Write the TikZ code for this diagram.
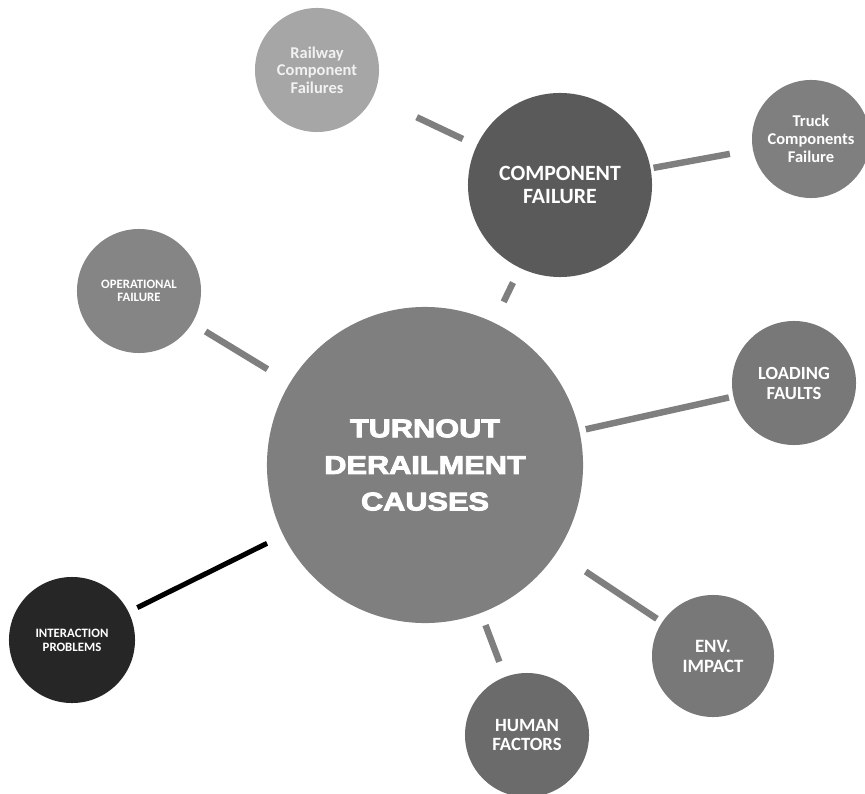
\documentclass[tikz,border=0pt]{standalone}
\usepackage{fontspec}
\setmainfont{Carlito}
\newfontfamily\titlefont[FakeStretch=1.2, FakeBold=3.5]{Liberation Sans Bold}

\definecolor{maingray}{HTML}{7F7F7F}
\definecolor{darkgray}{HTML}{5A5A5A}
\definecolor{lightgray}{HTML}{A6A6A6}
\definecolor{midgray}{HTML}{787878}
\definecolor{blackgray}{HTML}{262626}
\definecolor{linkgray}{HTML}{7F7F7F}

\tikzset{
  cause/.style={circle, inner sep=0pt, text=white, align=center, font=\bfseries},
  link/.style={draw=linkgray, line width=4.6pt},
}

\begin{document}
\begin{tikzpicture}[x=0.025cm, y=-0.025cm]
% Set the page size (one unit is one pixel)
\useasboundingbox (0,0) rectangle (865,793);

% Draw the main cause in the middle
\node[cause, fill=maingray, minimum size=7.9cm, font=\titlefont\fontsize{18.2}{26}\selectfont] (turnout) at (425,465) {TURNOUT\\DERAILMENT\\CAUSES};

% Draw the causes around it
\node[cause, fill=darkgray, minimum size=4.6cm, font=\bfseries\fontsize{15.5}{15.8}\selectfont] (compfail) at (560,185) {COMPONENT\\FAILURE};
\node[cause, fill=lightgray, minimum size=3.1cm, text=white!95!black, font=\bfseries\fontsize{11.7}{12.5}\selectfont] (railway) at (317,70) {Railway\\Component\\Failures};
\node[cause, fill=maingray, minimum size=2.95cm, font=\bfseries\fontsize{11.7}{12.6}\selectfont] (truck) at (811,139) {Truck\\Components\\Failure};
\node[cause, fill=maingray!95!white, minimum size=3.1cm, font=\bfseries\fontsize{9.1}{9.6}\selectfont] (operational) at (139,291) {OPERATIONAL\\FAILURE};
\node[cause, fill=midgray, minimum size=3.1cm, font=\bfseries\fontsize{13.2}{14.2}\selectfont] (loading) at (794,383) {LOADING\\FAULTS};
\node[cause, fill=blackgray, minimum size=3.15cm, font=\bfseries\fontsize{9.1}{9.9}\selectfont] (interaction) at (72,640) {INTERACTION\\PROBLEMS};
\node[cause, fill=midgray, minimum size=3.05cm, font=\bfseries\fontsize{13.4}{14.2}\selectfont] (env) at (713,656) {ENV.\\IMPACT};
\node[cause, fill=darkgray!90!white, minimum size=3.1cm, font=\bfseries\fontsize{13.3}{14.2}\selectfont] (human) at (527,735) {HUMAN\\FACTORS};

% Draw the links (they stop short of the circles)
\draw[link, shorten <=1.2cm, shorten >=0.38cm] (railway) -- (compfail);
\draw[link, shorten <=0.07cm, shorten >=0.58cm] (compfail) -- (truck);
\draw[link, shorten <=0.4cm, shorten >=0.57cm] (compfail) -- (turnout);
\draw[link, shorten <=0.39cm, shorten >=0.65cm] (operational) -- (turnout);
\draw[link, shorten <=0.16cm, shorten >=0.11cm] (turnout) -- (loading);
\draw[link, draw=black, line width=3.6pt, shorten <=0.24cm, shorten >=0.45cm] (interaction) -- (turnout);
\draw[link, shorten <=0.86cm, shorten >=0.15cm] (turnout) -- (env);
\draw[link, shorten <=0.32cm, shorten >=0.4cm] (turnout) -- (human);
\end{tikzpicture}
\end{document}
